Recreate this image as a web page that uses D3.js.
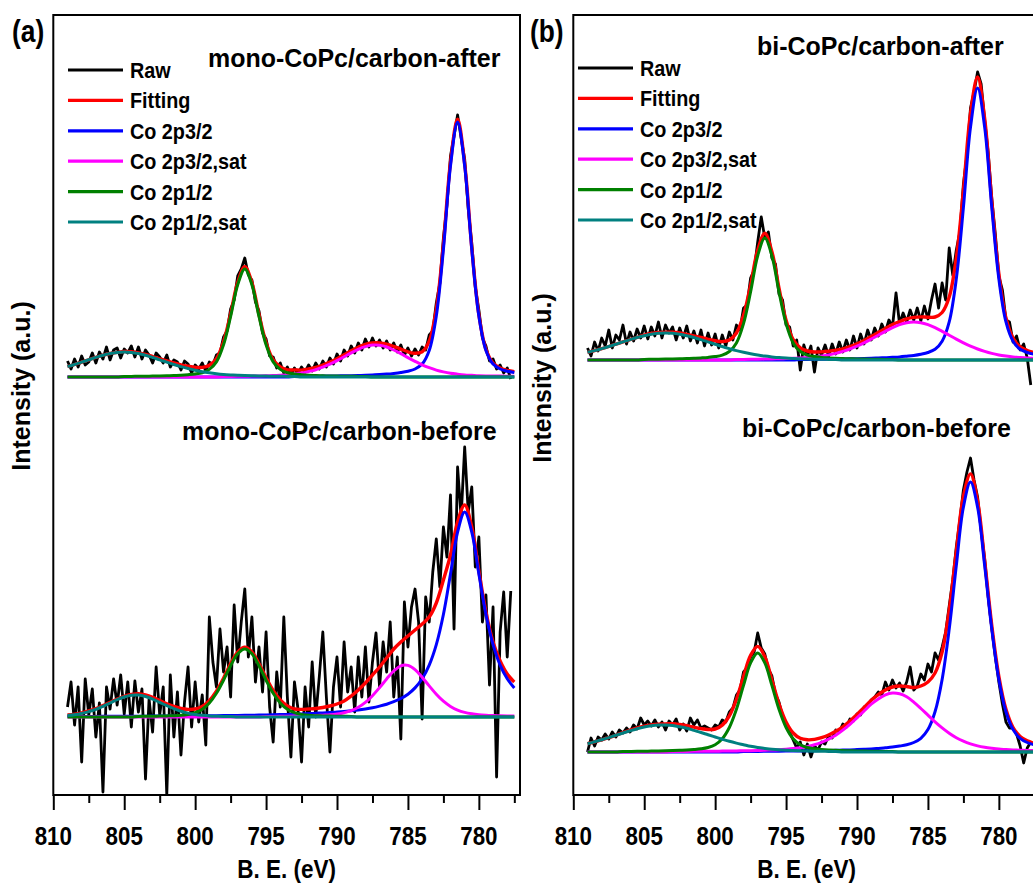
<!DOCTYPE html>
<html>
<head>
<meta charset="utf-8">
<script src="https://cdn.jsdelivr.net/npm/d3@7"></script>
<style>
  html, body { margin: 0; padding: 0; background: #fff; }
  svg text { font-family: "Liberation Sans", Arial, Helvetica, sans-serif; font-weight: bold; fill: #000; }
</style>
</head>
<body>
<svg id="chart" width="1033" height="885"></svg>
<script>
// ---------------------------------------------------------------
// Co 2p XPS spectra, binding energy grids (eV)
// raw spectra: 809 -> 777.75 eV in 0.25 eV steps (126 points)
// fitted curves: 809 -> 777.5 eV in 0.5 eV steps (64 points)
// ---------------------------------------------------------------
const rawEnergy = d3.range(126).map(i => 809 - 0.25 * i);
const fitEnergy = d3.range(64).map(i => 809 - 0.5 * i);

const xTicksMajor = [810, 805, 800, 795, 790, 785, 780];
const xTicksMinor = [807.5, 802.5, 797.5, 792.5, 787.5, 782.5, 777.5];
const xDomain = [810, 777.1];
const yDomain = [0, 780];

const seriesNames = ["Raw", "Fitting", "Co 2p3/2", "Co 2p3/2,sat", "Co 2p1/2", "Co 2p1/2,sat"];
const seriesColors = ["#000000", "#ff0000", "#0000ff", "#ff00ff", "#008000", "#008080"];

// vertical offsets of the stacked spectra (intensity units)
const stackOffsets = { monoAfter: 418, monoBefore: 78, biAfter: 435, biBefore: 43 };

// ---------------- mono-CoPc/carbon-after ----------------
const monoAfterRaw = [
  16, 8, 18, 10,   21, 12, 15, 24,   14, 25, 18, 30,   17, 27, 29, 19,
  28, 24, 31, 20,  30, 18, 27, 22,   14, 24, 20, 14,   22, 10, 17, 15,
  7, 16, 13, 4,    12, 8, 14, 6,     15, 12, 22, 24,   40, 46, 68, 77,
  101, 108, 119, 102, 97, 75, 66, 44, 38, 21, 20, 9,   14, 4, 10, 2,
  9, 3, 10, 5,     12, 6, 14, 8,     16, 10, 19, 13,   23, 16, 27, 21,
  31, 24, 34, 27,  38, 30, 39, 31,   37, 29, 36, 27,   34, 25, 32, 22,
  29, 21, 28, 22,  30, 27, 42, 46,   74, 94, 139, 172, 221, 241, 262, 239,
  218, 168, 134, 90, 67, 39, 31, 16, 18, 8, 12, 4,     9, -2
];
const monoAfterFit = [
  10.4, 12.5, 14.9, 17.2, 19.6, 21.8, 23.5, 24.6,
  25.5, 25.2, 24.2, 22.6, 20.5, 18.2, 16.1, 14.0,
  12.2, 10.8, 9.7, 9.6, 11.8, 18.4, 35.3, 63.2,
  94.7, 110.2, 94.4, 62.5, 34.3, 17.3, 10.1, 7.2,
  7.1, 6.9, 8.0, 9.6, 12.0, 14.9, 18.3, 22.2,
  26.2, 29.8, 32.7, 34.0, 34.1, 32.9, 30.6, 27.9,
  25.2, 23.7, 25.1, 35.8, 67.9, 132.6, 214.7, 257.8,
  213.1, 129.2, 62.3, 27.6, 13.9, 8.9, 6.6, 5.2
];
const monoAfterCo2p32 = [
  0, 0, 0, 0, 0, 0, 0, 0,
  0, 0, 0, 0, 0, 0, 0, 0,
  0, 0, 0, 0, 0, 0, 0, 0,
  0, 0, 0, 0, 0, 0, 0, 0,
  0.6, 0.7, 0.7, 0.8, 0.9, 1.0, 1.1, 1.2,
  1.3, 1.5, 1.8, 2.1, 2.4, 2.9, 3.6, 4.5,
  5.8, 8.0, 12.9, 26.5, 61, 127.5, 211, 255,
  211, 127.5, 61, 26.5, 12.9, 8.0, 5.8, 4.5
];
const monoAfterCo2p32Sat = [
  0, 0, 0, 0, 0, 0, 0, 0,
  0, 0, 0, 0, 0, 0, 0, 0,
  0, 0, 0, 0, 0, 0, 0.5, 0.6,
  0.7, 0.8, 0.9, 1.0, 1.2, 1.4, 1.8, 2.3,
  3.0, 3.9, 5.5, 7.3, 9.9, 12.9, 16.3, 20.2,
  24.2, 27.7, 30.4, 31.9, 31.7, 30.0, 27.0, 23.4,
  19.4, 15.7, 12.2, 9.3, 6.9, 5.1, 3.7, 2.8,
  2.1, 1.7, 1.3, 1.1, 1.0, 0.9, 0.8, 0.7
];
const monoAfterCo2p12 = [
  0, 0, 0, 0, 0, 0, 0, 0,
  0.5, 0.6, 0.7, 0.8, 0.9, 1.0, 1.2, 1.5,
  1.8, 2.3, 3.0, 4.3, 7.6, 15.1, 32.2, 60.5,
  92.3, 108, 92.3, 60.5, 32.2, 15.1, 7.6, 4.3,
  3.0, 2.3, 1.8, 1.5, 1.2, 1.0, 0.9, 0.8,
  0.7, 0.6, 0.5, 0, 0, 0, 0, 0,
  0, 0, 0, 0, 0, 0, 0, 0,
  0, 0, 0, 0, 0, 0, 0, 0
];
const monoAfterCo2p12Sat = [
  10.4, 12.5, 14.9, 17.2, 19.6, 21.8, 23.5, 24.6,
  25, 24.6, 23.5, 21.8, 19.6, 17.2, 14.9, 12.5,
  10.4, 8.5, 6.7, 5.3, 4.2, 3.3, 2.6, 2.1,
  1.7, 1.4, 1.2, 1.0, 0.9, 0.8, 0.7, 0.6,
  0.5, 0, 0, 0, 0, 0, 0, 0,
  0, 0, 0, 0, 0, 0, 0, 0,
  0, 0, 0, 0, 0, 0, 0, 0,
  0, 0, 0, 0, 0, 0, 0, 0
];

// ---------------- mono-CoPc/carbon-before ----------------
const monoBeforeRaw = [
  10, 35, -8, 30,   -45, 38, 2, 28,   -20, 14, -75, 30,  8, 38, 12, 42,
  3, 35, -10, 36,   5, 28, -62, 18,   -15, 50, 2, 30,    -78, 42, -20, 25,
  -38, 15, 50, -10, 35, -5, 22, -28,  100, 55, 30, 88,   45, 70, 20, 112,
  55, 95, 128, 60,  100, 35, 70, 25,  85, 10, -25, 45,   10, 100, 20, -40,
  35, 8, -45, 30,   -10, 55, 0, 40,   85, 20, -35, 30,   60, 10, 75, 25,
  50, 5, 60, 20,    70, 15, 55, 84,   30, 75, 45, 95,    20, 60, -22, 115,
  70, 110, 128, 95, -2, 120, 95, 145, 178, 130, 190, 160, 222, 88, 250, 200,
  270, 205, 230, 150, 180, 95, 122, 32, 110, -60, 85, 125, 60, 126
];
const monoBeforeFit = [
  2.0, 2.9, 4.2, 6.0, 8.3, 11.4, 14.7, 18.0,
  20.7, 22.5, 23.3, 22.0, 19.6, 16.4, 13.3, 10.6,
  8.5, 7.6, 8.0, 10.6, 16.4, 25.8, 38.8, 53.3,
  64.8, 69.7, 65.0, 53.2, 39.3, 26.5, 17.1, 11.1,
  8.0, 7.6, 8.0, 8.5, 9.5, 11.0, 13.0, 16.0,
  21.0, 27.0, 34.0, 42.0, 50.0, 59.0, 68.0, 75.0,
  81.0, 87.0, 93.0, 100.0, 114.0, 137.0, 162.0, 195.0,
  212.0, 190.0, 146.0, 105.0, 75.0, 56.0, 43.0, 35.0
];
const monoBeforeCo2p32 = [
  0.5, 0.6, 0.6, 0.6, 0.6, 0.7, 0.7, 0.7,
  0.7, 0.8, 0.8, 0.8, 0.9, 0.9, 0.9, 1.0,
  1.0, 1.1, 1.1, 1.2, 1.3, 1.3, 1.4, 1.5,
  1.6, 1.7, 1.8, 1.9, 2.0, 2.2, 2.4, 2.6,
  2.8, 3.1, 3.4, 3.7, 4.1, 4.5, 5.0, 5.6,
  6.3, 7.1, 8.1, 9.3, 10.9, 12.8, 15.3, 18.5,
  22.8, 29.1, 38.2, 51.9, 72.4, 102.5, 143, 185,
  205, 185, 143, 102.5, 72.4, 51.9, 38.2, 29.1
];
const monoBeforeCo2p32Sat = [
  0, 0, 0, 0, 0, 0, 0, 0,
  0, 0, 0, 0, 0, 0, 0, 0,
  0, 0, 0, 0, 0, 0, 0, 0,
  0, 0, 0, 0, 0.5, 0.6, 0.7, 0.8,
  0.9, 1.0, 1.2, 1.4, 1.8, 2.2, 3.0, 4.3,
  6.4, 9.7, 14.6, 21.3, 29.4, 38.1, 46.0, 51.2,
  51.6, 47.4, 39.8, 31.1, 22.8, 15.8, 10.6, 6.9,
  4.6, 3.2, 2.3, 1.8, 1.5, 1.3, 1.1, 1.0
];
const monoBeforeCo2p12 = [
  0, 0, 0, 0, 0, 0, 0, 0,
  0, 0, 0.6, 0.7, 0.8, 0.9, 1.1, 1.3,
  1.7, 2.6, 4.3, 7.7, 14.0, 23.7, 36.8, 51.3,
  63.2, 68, 63.2, 51.3, 36.8, 23.7, 14.0, 7.7,
  4.3, 2.6, 1.7, 1.3, 1.1, 0.9, 0.8, 0.7,
  0.6, 0, 0, 0, 0, 0, 0, 0,
  0, 0, 0, 0, 0, 0, 0, 0,
  0, 0, 0, 0, 0, 0, 0, 0
];
const monoBeforeCo2p12Sat = [
  1.5, 2.3, 3.6, 5.4, 7.7, 10.7, 14.0, 17.3,
  20.0, 21.7, 21.9, 20.5, 17.9, 14.6, 11.3, 8.3,
  5.8, 3.9, 2.6, 1.7, 1.1, 0.8, 0.6, 0.5,
  0, 0, 0, 0, 0, 0, 0, 0,
  0, 0, 0, 0, 0, 0, 0, 0,
  0, 0, 0, 0, 0, 0, 0, 0,
  0, 0, 0, 0, 0, 0, 0, 0,
  0, 0, 0, 0, 0, 0, 0, 0
];

// ---------------- bi-CoPc/carbon-after ----------------
const biAfterRaw = [
  12, 4, 18, 9,    22, 14, 30, 12,   25, 20, 35, 16,   28, 19, 31, 22,
  34, 21, 33, 24,  38, 22, 35, 27,   33, 20, 32, 22,   34, 19, 29, 17,
  30, 14, 27, 15,  26, 12, 25, 14,   28, 20, 35, 30,   52, 55, 82, 90,
  118, 143, 122, 128, 102, 96, 66, 60, 35, 33, 14, 20, -10, 15, 4, 14,
  -12, 12, 5, 15,  4, 16, 6, 18,     8, 20, 10, 24,    12, 26, 16, 30,
  20, 32, 24, 36,  28, 40, 33, 67,   36, 47, 38, 50,   40, 52, 39, 54,
  41, 60, 76, 52,  77, 60, 112, 85,  110, 128, 176, 205, 252, 268, 288, 276,
  240, 207, 162, 126, 84, 70, 40, 38, 18, 24, 10, 16,  2, -25
];
const biAfterFit = [
  7.7, 9.4, 11.4, 13.5, 15.8, 18.1, 20.4, 22.5,
  24.9, 26.5, 27.5, 27.9, 27.7, 27.0, 25.7, 24.2,
  22.5, 20.7, 19.2, 18.4, 19.9, 27.0, 44.7, 75.2,
  110.0, 126.8, 108.4, 71.9, 39.7, 20.3, 12.2, 9.0,
  8.0, 8.1, 8.7, 9.8, 11.1, 13.4, 16.1, 19.6,
  23.4, 27.5, 31.6, 35.5, 38.4, 41.1, 42.6, 43.1,
  42.8, 43.0, 47.5, 62.9, 102.0, 169.5, 246.4, 283.0,
  241.2, 158.9, 86.2, 42.1, 21.9, 13.2, 9.5, 7.5
];
const biAfterCo2p32 = [
  0, 0, 0, 0, 0, 0, 0, 0,
  0, 0, 0, 0, 0, 0, 0, 0,
  0, 0, 0, 0, 0, 0, 0, 0,
  0, 0, 0, 0, 0, 0, 0.5, 0.6,
  0.7, 0.8, 0.9, 1.0, 1.1, 1.2, 1.3, 1.5,
  1.7, 2.0, 2.3, 2.7, 3.1, 3.8, 4.6, 5.8,
  7.5, 10.7, 18.8, 38.1, 81.1, 152.3, 232.6, 272,
  232.6, 152.3, 81.1, 38.1, 18.8, 10.7, 7.5, 5.8
];
const biAfterCo2p32Sat = [
  0, 0, 0, 0, 0, 0, 0, 0,
  0, 0, 0, 0, 0, 0, 0, 0,
  0, 0, 0, 0, 0, 0.5, 0.6, 0.7,
  0.8, 0.9, 1.0, 1.2, 1.4, 1.7, 2.0, 2.5,
  3.1, 4.0, 5.1, 6.6, 8.6, 11.0, 13.8, 17.2,
  20.9, 24.8, 28.7, 32.3, 35.3, 37.3, 38, 37.3,
  35.3, 32.3, 28.7, 24.8, 20.9, 17.2, 13.8, 11.0,
  8.6, 6.6, 5.1, 4.0, 3.1, 2.5, 2.0, 1.7
];
const biAfterCo2p12 = [
  0, 0, 0, 0, 0, 0, 0, 0,
  0.6, 0.7, 0.8, 0.9, 1.0, 1.2, 1.4, 1.7,
  2.1, 2.6, 3.4, 4.9, 8.5, 17.1, 36.4, 68.3,
  104.3, 122, 104.3, 68.3, 36.4, 17.1, 8.5, 4.9,
  3.4, 2.6, 2.1, 1.7, 1.4, 1.2, 1.0, 0.9,
  0.8, 0.7, 0.6, 0.5, 0, 0, 0, 0,
  0, 0, 0, 0, 0, 0, 0, 0,
  0, 0, 0, 0, 0, 0, 0, 0
];
const biAfterCo2p12Sat = [
  7.7, 9.4, 11.4, 13.5, 15.8, 18.1, 20.4, 22.5,
  24.3, 25.8, 26.7, 27, 26.7, 25.8, 24.3, 22.5,
  20.4, 18.1, 15.8, 13.5, 11.4, 9.4, 7.7, 6.2,
  4.9, 3.9, 3.1, 2.4, 1.9, 1.5, 1.2, 1.0,
  0.8, 0.7, 0.6, 0.5, 0, 0, 0, 0,
  0, 0, 0, 0, 0, 0, 0, 0,
  0, 0, 0, 0, 0, 0, 0, 0,
  0, 0, 0, 0, 0, 0, 0, 0
];

// ---------------- bi-CoPc/carbon-before ----------------
const biBeforeRaw = [
  0, 14, 6, 15,    12, 18, 13, 20,   15, 22, 19, 24,   20, 27, 23, 34,
  27, 31, 26, 32,  25, 30, 22, 31,   27, 33, 22, 28,   21, 34, 27, 32,
  24, 26, 24, 22,  27, 25, 32, 30,   40, 44, 57, 62,   80, 84, 95, 100,
  119, 104, 98, 83, 76, 58, 50, 36,  28, 20, 12, 4,    10, -3, 8, -5,
  6, 2, 10, 8,     16, 14, 22, 20,   28, 25, 33, 31,   38, 37, 45, 47,
  52, 55, 60, 57,  70, 62, 72, 64,   69, 61, 70, 85,   62, 66, 78, 72,
  88, 80, 99, 92,  105, 120, 146, 172, 205, 232, 262, 280, 294, 272, 255, 222,
  193, 155, 124, 95, 70, 48, 30, 24, 24, 18, 6, -11,  4, 10
];
const biBeforeFit = [
  8.3, 10.2, 12.2, 14.4, 16.7, 19.5, 21.8, 24.0,
  25.8, 27.1, 27.9, 28.1, 28.3, 27.5, 26.3, 24.8,
  23.4, 22.5, 23.0, 26.9, 36.2, 52.7, 75.6, 96.7,
  105.6, 95.2, 72.1, 48.0, 30.0, 19.0, 13.7, 12.2,
  12.6, 14.3, 17.0, 20.7, 25.2, 31.0, 37.6, 44.6,
  51.7, 57.4, 61.9, 65.0, 66.0, 65.5, 64.5, 66.0,
  70.0, 79.0, 100.0, 142.0, 200.6, 255.7, 278.1, 251.0,
  191.0, 126.6, 75.5, 42.7, 24.5, 15.5, 11.1, 8.7
];
const biBeforeCo2p32 = [
  0, 0, 0, 0, 0, 0, 0, 0,
  0, 0, 0, 0, 0, 0, 0, 0,
  0, 0, 0, 0, 0, 0, 0.5, 0.6,
  0.6, 0.7, 0.7, 0.8, 0.9, 1.0, 1.1, 1.2,
  1.3, 1.4, 1.5, 1.7, 1.9, 2.1, 2.4, 2.7,
  3.1, 3.6, 4.2, 4.9, 5.9, 7.2, 9.5, 13.7,
  22.4, 40.2, 72.6, 122.9, 186.3, 244.9, 270, 244.9,
  186.3, 122.9, 72.6, 40.2, 22.4, 13.7, 9.5, 7.2
];
const biBeforeCo2p32Sat = [
  0, 0, 0, 0, 0, 0, 0, 0,
  0, 0, 0, 0, 0.5, 0.6, 0.6, 0.7,
  0.7, 0.8, 0.8, 0.9, 1.0, 1.1, 1.2, 1.3,
  1.5, 1.8, 2.0, 2.3, 2.8, 3.4, 4.2, 5.5,
  7.3, 9.7, 12.9, 16.8, 21.9, 27.7, 34.2, 41.0,
  47.8, 53.1, 57.1, 58.9, 58.2, 55.2, 49.8, 43.5,
  36.8, 30.1, 24.1, 18.8, 14.3, 10.8, 8.1, 6.1,
  4.7, 3.7, 2.9, 2.5, 2.1, 1.8, 1.6, 1.5
];
const biBeforeCo2p12 = [
  0, 0, 0, 0, 0, 0.5, 0.6, 0.7,
  0.8, 0.9, 1.0, 1.2, 1.4, 1.7, 2.0, 2.5,
  3.2, 4.5, 7.2, 13.2, 24.5, 42.7, 66.6, 89.1,
  99, 89.1, 66.6, 42.7, 24.5, 13.2, 7.2, 4.5,
  3.2, 2.5, 2.0, 1.7, 1.4, 1.2, 1.0, 0.9,
  0.8, 0.7, 0.6, 0.5, 0, 0, 0, 0,
  0, 0, 0, 0, 0, 0, 0, 0,
  0, 0, 0, 0, 0, 0, 0, 0
];
const biBeforeCo2p12Sat = [
  8.3, 10.2, 12.2, 14.4, 16.7, 19.0, 21.2, 23.3,
  25.0, 26.2, 26.9, 26.9, 26.4, 25.2, 23.7, 21.6,
  19.5, 17.2, 15.0, 12.8, 10.7, 8.9, 7.3, 5.7,
  4.5, 3.6, 2.8, 2.2, 1.8, 1.4, 1.2, 1.0,
  0.8, 0.7, 0.6, 0.5, 0, 0, 0, 0,
  0, 0, 0, 0, 0, 0, 0, 0,
  0, 0, 0, 0, 0, 0, 0, 0,
  0, 0, 0, 0, 0, 0, 0, 0
];

// ---------------------------------------------------------------
// layout
// ---------------------------------------------------------------
const plotTop = 15, plotBottom = 795;
const panels = [
  {
    key: "a", tag: "(a)", left: 53.3, right: 520, tagX: 12, yLabelX: 30, yLabelY: 386,
    legendX: 68, legendY: 70,
    spectra: [
      { title: "mono-CoPc/carbon-after", titleX: 208, titleY: 67, offset: stackOffsets.monoAfter,
        raw: monoAfterRaw, curves: [monoAfterFit, monoAfterCo2p32, monoAfterCo2p32Sat, monoAfterCo2p12, monoAfterCo2p12Sat] },
      { title: "mono-CoPc/carbon-before", titleX: 182, titleY: 440, offset: stackOffsets.monoBefore,
        raw: monoBeforeRaw, curves: [monoBeforeFit, monoBeforeCo2p32, monoBeforeCo2p32Sat, monoBeforeCo2p12, monoBeforeCo2p12Sat] }
    ]
  },
  {
    key: "b", tag: "(b)", left: 573.3, right: 1040, tagX: 530, yLabelX: 551, yLabelY: 378,
    legendX: 578, legendY: 68,
    spectra: [
      { title: "bi-CoPc/carbon-after", titleX: 757, titleY: 55, offset: stackOffsets.biAfter,
        raw: biAfterRaw, curves: [biAfterFit, biAfterCo2p32, biAfterCo2p32Sat, biAfterCo2p12, biAfterCo2p12Sat] },
      { title: "bi-CoPc/carbon-before", titleX: 742, titleY: 437, offset: stackOffsets.biBefore,
        raw: biBeforeRaw, curves: [biBeforeFit, biBeforeCo2p32, biBeforeCo2p32Sat, biBeforeCo2p12, biBeforeCo2p12Sat] }
    ]
  }
];

const svg = d3.select("#chart");
const defs = svg.append("defs");

// bold text with a slightly narrowed set width
function narrowText(parent, x, y, size, sx, str, anchor) {
  return parent.append("text")
    .attr("text-anchor", anchor || "start")
    .attr("font-size", size)
    .attr("transform", `translate(${x},${y}) scale(${sx},1)`)
    .text(str);
}

panels.forEach(p => {
  const x = d3.scaleLinear().domain(xDomain).range([p.left, p.right]);
  const y = d3.scaleLinear().domain(yDomain).range([plotBottom, plotTop]);
  const g = svg.append("g").attr("class", "panel-" + p.key);

  defs.append("clipPath").attr("id", "clip-" + p.key)
    .append("rect")
    .attr("x", p.left).attr("y", plotTop)
    .attr("width", p.right - p.left).attr("height", plotBottom - plotTop);

  const plot = g.append("g").attr("clip-path", `url(#clip-${p.key})`);

  p.spectra.forEach(s => {
    const rawLine = d3.line()
      .x((d, i) => x(rawEnergy[i]))
      .y(d => y(d + s.offset));
    plot.append("path")
      .datum(s.raw)
      .attr("d", rawLine)
      .attr("fill", "none")
      .attr("stroke", seriesColors[0])
      .attr("stroke-width", 2.8)
      .attr("stroke-linejoin", "round");

    const fitLine = d3.line()
      .x((d, i) => x(fitEnergy[i]))
      .y(d => y(d + s.offset))
      .curve(d3.curveCatmullRom.alpha(0.5));
    s.curves.forEach((c, k) => {
      plot.append("path")
        .datum(c)
        .attr("d", fitLine)
        .attr("fill", "none")
        .attr("stroke", seriesColors[k + 1])
        .attr("stroke-width", k === 0 ? 3.4 : 3)
        .attr("stroke-linejoin", "round");
    });

    narrowText(g, s.titleX, s.titleY, 26, 0.96, s.title);
  });

  // frame
  g.append("rect")
    .attr("x", p.left).attr("y", plotTop)
    .attr("width", p.right - p.left).attr("height", plotBottom - plotTop)
    .attr("fill", "none").attr("stroke", "#000").attr("stroke-width", 2);

  // bottom axis: major and minor ticks pointing outward
  const axisMajor = d3.axisBottom(x).tickValues(xTicksMajor).tickSize(15).tickFormat("");
  const axisMinor = d3.axisBottom(x).tickValues(xTicksMinor).tickSize(8).tickFormat("");
  [axisMajor, axisMinor].forEach(ax => {
    const a = g.append("g").attr("transform", `translate(0,${plotBottom})`).call(ax);
    a.select(".domain").remove();
    a.selectAll("line").attr("stroke", "#000").attr("stroke-width", 2);
  });

  // tick labels
  xTicksMajor.forEach(v => narrowText(g, x(v), 845, 26, 0.86, String(v), "middle"));

  // axis titles
  narrowText(g, (p.left + p.right) / 2, 878, 25, 0.9, "B. E. (eV)", "middle");
  g.append("text")
    .attr("text-anchor", "middle")
    .attr("font-size", 25)
    .attr("transform", `translate(${p.yLabelX},${p.yLabelY}) rotate(-90)`)
    .text("Intensity (a.u.)");

  // panel tag
  narrowText(g, p.tagX, 42, 31, 0.85, p.tag);

  // legend
  seriesNames.forEach((name, i) => {
    const ly = p.legendY + i * 30.4;
    g.append("line")
      .attr("x1", p.legendX).attr("x2", p.legendX + 55)
      .attr("y1", ly).attr("y2", ly)
      .attr("stroke", seriesColors[i]).attr("stroke-width", 3.2);
    narrowText(g, p.legendX + 62, ly + 8, 22, 0.9, name);
  });
});
</script>
</body>
</html>
